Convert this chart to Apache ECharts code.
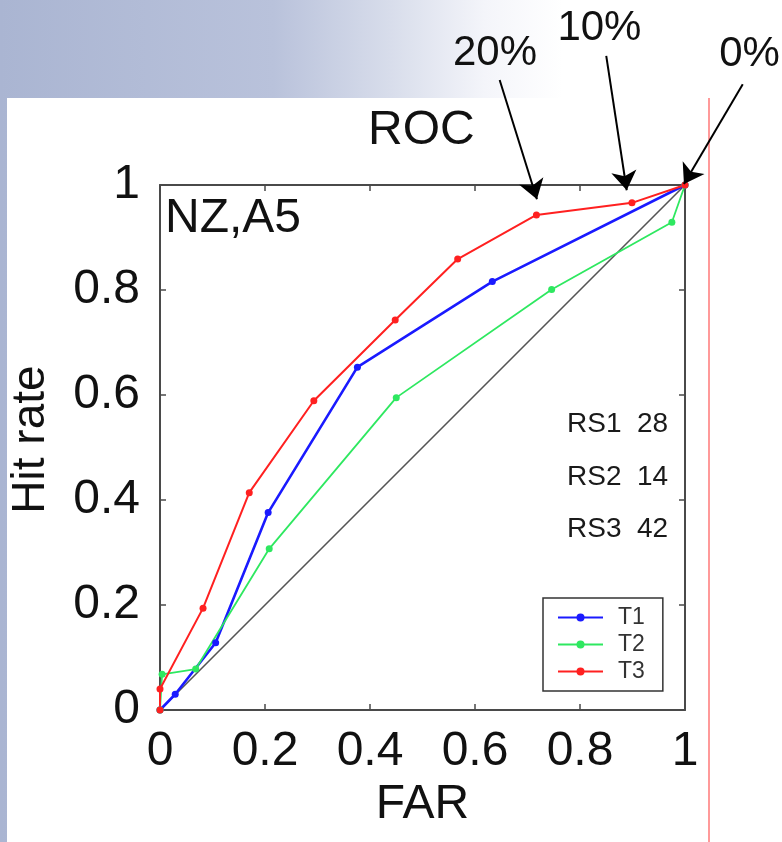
<!DOCTYPE html>
<html>
<head>
<meta charset="utf-8">
<script src="https://cdn.jsdelivr.net/npm/echarts@6/dist/echarts.min.js"></script>
<style>
html,body{margin:0;padding:0;}
#main{width:782px;height:842px;}
</style>
</head>
<body>
<div id="main"></div>
<script>
// 数据 (FAR, Hit rate)
var seriesNames = ['T1', 'T2', 'T3'];
var t1X = [0, 0.029, 0.106, 0.206, 0.376, 0.633, 1];
var t1Y = [0, 0.030, 0.128, 0.376, 0.653, 0.816, 1];
var t2X = [0, 0.004, 0.068, 0.208, 0.450, 0.746, 0.975, 1];
var t2Y = [0, 0.068, 0.078, 0.307, 0.595, 0.801, 0.929, 1];
var t3X = [0, 0, 0.082, 0.170, 0.293, 0.448, 0.567, 0.717, 0.899, 1];
var t3Y = [0, 0.040, 0.194, 0.414, 0.589, 0.743, 0.859, 0.943, 0.966, 1];
var diagX = [0, 1];
var diagY = [0, 1];
var axisTicks = [0, 0.2, 0.4, 0.6, 0.8, 1];
var rsLabels = ['RS1  28', 'RS2  14', 'RS3  42'];
// 箭头标注 (数据坐标)
var pctLabels = ['20%', '10%', '0%'];
var pctTipX = [0.718, 0.889, 0.998];
var pctTipY = [0.973, 0.990, 1.002];
var pctTailX = [0.647, 0.850, 1.110];
var pctTailY = [1.200, 1.246, 1.192];
var pctTextX = [0.638, 0.837, 1.123];
var pctTextY = [1.251, 1.299, 1.248];

function pairs(xs, ys) {
	var out = [];
	for (var i = 0; i < xs.length; i++) {
		out.push([xs[i], ys[i]]);
	}
	return out;
}

var FONT = '"Liberation Sans", Arial, sans-serif';
var axisColor = '#4a4a4a';

var myChart = echarts.init(document.getElementById('main'));

var baseAxis = {
	type: 'value',
	min: 0,
	max: 1,
	interval: 0.2,
	splitLine: { show: false },
	axisLine: { show: true, onZero: false, lineStyle: { color: axisColor, width: 2 } },
	axisTick: { show: true, inside: true, length: 6, lineStyle: { color: axisColor, width: 1.5 } }
};

function axis(extra) {
	return echarts.util.merge(echarts.util.clone(baseAxis), extra, true);
}

var labelStyle = { color: '#111', fontSize: 48, fontFamily: FONT };

var arrowData = [];
for (var i = 0; i < pctLabels.length; i++) {
	arrowData.push({ coords: [[pctTailX[i], pctTailY[i]], [pctTipX[i], pctTipY[i]]] });
}

var option = {
	backgroundColor: {
		type: 'linear', x: 0, y: 0, x2: 1, y2: 0,
		colorStops: [
			{ offset: 0, color: '#aab5d2' },
			{ offset: 0.35, color: '#b9c2db' },
			{ offset: 0.5, color: '#d8ddeb' },
			{ offset: 0.62, color: '#f4f5fa' },
			{ offset: 0.72, color: '#ffffff' }
		]
	},
	animation: false,
	title: {
		text: 'ROC',
		left: 368,
		top: 107,
		padding: 0,
		textStyle: { color: '#111', fontSize: 48, fontWeight: 'normal', fontFamily: FONT }
	},
	grid: { left: 158, top: 185, width: 527, height: 525 },
	xAxis: [
		axis({
			position: 'bottom',
			name: 'FAR',
			nameLocation: 'middle',
			nameGap: 68,
			nameTextStyle: labelStyle,
			axisLabel: { margin: 18, color: '#111', fontSize: 48, fontFamily: FONT }
		}),
		axis({ position: 'top', axisLabel: { show: false } })
	],
	yAxis: [
		axis({
			position: 'left',
			name: 'Hit rate',
			nameLocation: 'middle',
			nameGap: 106,
			nameTextStyle: { color: '#111', fontSize: 46, fontFamily: FONT, padding: [0, 0, 0, 16] },
			axisLabel: { margin: 20, color: '#111', fontSize: 48, fontFamily: FONT }
		}),
		axis({ position: 'right', axisLabel: { show: false } })
	],
	legend: {
		data: seriesNames,
		orient: 'vertical',
		left: 543,
		top: 598,
		padding: [8, 18, 8, 14],
		itemGap: 4,
		itemWidth: 45,
		itemHeight: 10,
		backgroundColor: '#fff',
		borderColor: '#333',
		borderWidth: 1.5,
		borderRadius: 0,
		textStyle: { color: '#333', fontSize: 23, fontFamily: FONT, padding: [0, 0, 0, 10] }
	},
	series: [
		{
			name: 'diag',
			type: 'line',
			data: pairs(diagX, diagY),
			symbol: 'none',
			lineStyle: { color: '#555', width: 1.6 },
			z: 1
		},
		{
			name: 'T1',
			type: 'line',
			data: pairs(t1X, t1Y),
			symbol: 'circle',
			symbolSize: 7,
			itemStyle: { color: '#1a1aff' },
			lineStyle: { color: '#1a1aff', width: 2.6 }
		},
		{
			name: 'T2',
			type: 'line',
			data: pairs(t2X, t2Y),
			symbol: 'circle',
			symbolSize: 7,
			itemStyle: { color: '#2ee860' },
			lineStyle: { color: '#2ee860', width: 1.8 }
		},
		{
			name: 'T3',
			type: 'line',
			data: pairs(t3X, t3Y),
			symbol: 'circle',
			symbolSize: 7,
			itemStyle: { color: '#ff2020' },
			lineStyle: { color: '#ff2020', width: 2 }
		},
		{
			name: 'arrows',
			type: 'lines',
			coordinateSystem: 'cartesian2d',
			clip: false,
			symbol: ['none', 'arrow'],
			symbolSize: [0, 19],
			lineStyle: { color: '#000', width: 2, opacity: 1, curveness: 0 },
			data: arrowData,
			z: 5
		}
	]
};

myChart.setOption(option);

// 白色面板、红线、文字
var graphics = [
	{ type: 'rect', left: 7, top: 98, z: -1, shape: { width: 775, height: 744 }, style: { fill: '#fff' } },
	{ type: 'line', z: -1, shape: { x1: 709, y1: 98, x2: 709, y2: 842 }, style: { stroke: '#ff9a9a', lineWidth: 2 } },
	{ type: 'text', x: 165, y: 219, style: { text: 'NZ,A5', font: '48px ' + FONT, fill: '#111', verticalAlign: 'middle' } }
];
var rsY = [424, 477, 529];
for (var k = 0; k < rsLabels.length; k++) {
	graphics.push({ type: 'text', x: 567, y: rsY[k], style: { text: rsLabels[k], font: '28px ' + FONT, fill: '#1a1a1a', verticalAlign: 'middle' } });
}
for (var j = 0; j < pctLabels.length; j++) {
	var p = myChart.convertToPixel({ xAxisIndex: 0, yAxisIndex: 0 }, [pctTextX[j], pctTextY[j]]);
	graphics.push({ type: 'text', x: p[0], y: p[1], z: 10, style: { text: pctLabels[j], font: '42px ' + FONT, fill: '#111', align: 'center', verticalAlign: 'middle' } });
}
myChart.setOption({ graphic: graphics });
</script>
</body>
</html>
